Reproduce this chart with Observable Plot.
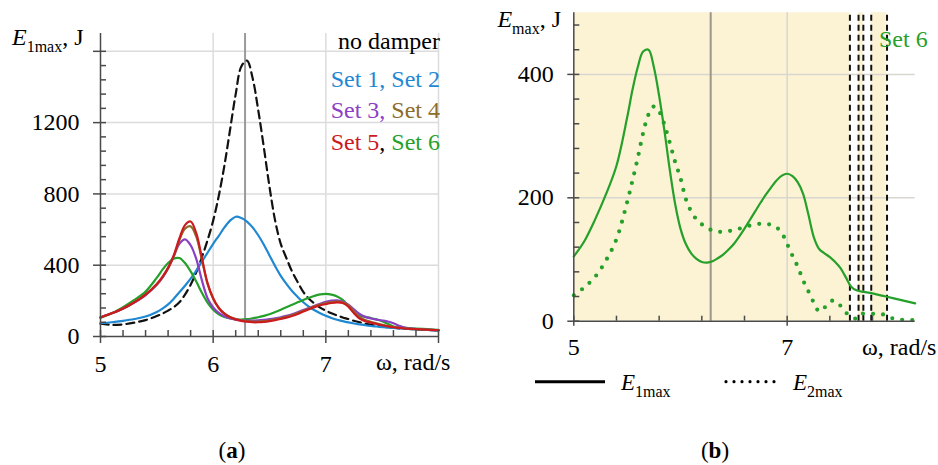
<!DOCTYPE html>
<html>
<head>
<meta charset="utf-8">
<script src="https://cdn.jsdelivr.net/npm/d3@7"></script>
<script src="https://cdn.jsdelivr.net/npm/@observablehq/plot@0.6"></script>
<style>
  html, body { margin: 0; padding: 0; background: #fff; }
  #fig { position: relative; width: 938px; height: 465px; overflow: hidden; background: #fff;
         font-family: "Liberation Serif", "DejaVu Serif", serif; color: #000; }
  #fig > svg { position: absolute; top: 0; }
  #fig svg text { font-family: "Liberation Serif", "DejaVu Serif", serif; }
  .t { position: absolute; white-space: nowrap; font-family: "Liberation Serif", "DejaVu Serif", serif; }
  .sub { font-size: 16px; position: relative; top: 7px; font-style: normal; }
</style>
</head>
<body>
<div id="fig"></div>
<script>
// ---------------- DATA ----------------
// Panel (a): frequency grid, rad/s
const omegaA = [5.0,5.1,5.2,5.3,5.4,5.5,
  5.55,5.6,5.65,5.7,5.75,5.8,5.85,5.9,5.95,6.0,
  6.05,6.1,6.15,6.2,6.25,6.3,6.35,6.4,6.45,6.5,
  6.55,6.6,6.65,6.7,6.75,6.8,6.85,6.9,6.95,7.0,
  7.05,7.1,7.15,7.2,7.25,7.3,7.35,7.4,7.45,7.5,
  7.55,7.6,7.65,7.7,7.8,7.9,8.0];
// E1max, J — no damper
const noDamper = [72,65,68,78,92,115,
  128,145,165,192,235,290,360,445,540,650,
  790,960,1160,1360,1515,1548,1450,1270,1060,840,
  650,520,440,365,305,250,212,185,162,145,
  130,118,107,98,88,80,72,66,60,56,
  52,49,46,44,40,37,34];
// Set 1, Set 2
const set12 = [75,80,88,98,112,138,
  156,180,212,248,285,325,370,420,470,520,
  565,612,650,672,665,645,612,568,515,455,
  395,340,295,255,222,192,167,147,130,116,
  104,94,86,79,73,68,63,59,56,53,
  50,48,46,44,40,37,34];
// Set 3
const set3 = [107,130,156,190,232,290,
  330,385,450,520,545,512,435,315,215,163,
  132,114,102,95,91,89,89,90,93,97,
  102,108,116,125,136,148,160,172,184,194,
  201,203,196,178,152,126,110,101,95,90,
  84,74,60,50,42,38,35];
// Set 4
const set4 = [107,130,157,192,235,293,
  333,382,450,540,605,618,560,430,295,212,
  160,128,109,98,90,86,84,84,86,90,
  96,103,111,120,131,144,157,169,179,187,
  193,196,192,174,140,108,92,82,74,66,
  59,54,49,46,41,38,35];
// Set 5
const set5 = [107,130,157,192,235,295,
  335,385,455,550,625,645,580,440,300,215,
  160,128,108,96,88,83,80,80,82,86,
  92,98,106,115,126,140,153,165,175,182,
  188,191,188,168,130,100,86,78,70,63,
  57,52,48,45,41,38,35];
// Panel (b) grid (also used for Set 6 in panel a)
const omegaB = [5.0,5.1,5.2,5.3,5.4,5.5,
  5.55,5.6,5.65,5.7,5.75,5.8,5.85,5.9,5.95,6.0,
  6.05,6.1,6.15,6.2,6.25,6.3,6.35,6.4,6.45,6.5,
  6.55,6.6,6.65,6.7,6.75,6.8,6.85,6.9,6.95,7.0,
  7.05,7.1,7.15,7.2,7.25,7.3,7.35,7.4,7.45,7.5,
  7.55,7.6,7.65,7.7,7.8,7.9,8.0,8.1,8.2];
// Set 6 — E1max
const set6E1 = [105,130,165,205,252,330,
  375,412,437,440,412,365,308,245,190,150,
  125,110,101,96,95,97,102,108,116,125,
  137,150,164,178,192,205,217,228,236,239,
  235,225,206,172,136,117,110,104,96,86,
  71,56,50,48,45,41,37,33,29];
// Set 6 — E2max
const set6E2 = [42,55,72,98,133,193,
  228,265,305,335,348,340,318,289,258,232,
  198,178,165,157,151,147,145,145,146,148,
  150,152,155,157,158,158,156,152,143,125,
  106,88,66,48,30,16,22,32,33,25,
  14,8,4,12,12,11,4,2,2];
// reference frequency (vertical grey line), rad/s
const refOmega = [6.283];
// stability boundaries in panel (b), rad/s
const bounds = [7.588, 7.669, 7.714, 7.788, 7.936];

// ticks
const majorXA = [5, 6, 7, 8];
const innerXA = [5,5.2,5.4,5.6,5.8,6,6.2,6.4,6.6,6.8,7,7.2,7.4,7.6,7.8,8];
const gridXA = [6, 7, 8];
const majorYA = [0, 400, 800, 1200, 1600];
const innerYA = [0,80,160,240,320,400,480,560,640,720,800,880,960,1040,1120,1200,1280,1360,1440,1520,1600];
const gridYA = [400, 800, 1200, 1600];

const majorXB = [5, 7];
const innerXB = [5,5.4,5.8,6.2,6.6,7,7.4,7.8];
const gridXB = [7];
const majorYB = [0, 200, 400];
const innerYB = [0,40,80,120,160,200,240,280,320,360,400,440,480];
const gridYB = [200, 400];

// colours
const C = {blue: "#1f88d2", purple: "#8b3fc4", brown: "#8c6d2c", red: "#cc1a1f", green: "#25a02a"};

// ---------------- DRAW ----------------
const fig = document.getElementById("fig");
const FONT = "Liberation Serif, DejaVu Serif, serif";
const AXIS = "#4a4a4a";
const GRID = "#dcdcdc";
const series = (xs, ys) => xs.map((x, i) => ({w: x, v: ys[i]}));

// Panel (a)
const A = {w: 470, h: 380, l: 100, r: 32, t: 33, b: 44};
const aH = A.h - A.t - A.b, aW = A.w - A.l - A.r;
const lineOpt = (stroke) => ({x: "w", y: "v", stroke, strokeWidth: 2.2, curve: "catmull-rom"});
const plotA = Plot.plot({
  width: A.w, height: A.h, marginLeft: A.l, marginRight: A.r, marginTop: A.t, marginBottom: A.b,
  x: {domain: [5, 8], label: null},
  y: {domain: [0, 1700], label: null},
  style: {fontFamily: FONT, fontSize: "24px", color: "#000", background: "transparent", overflow: "visible"},
  marks: [
    Plot.ruleY(gridYA, {y: d => d, x1: 5, x2: 8, stroke: GRID, strokeWidth: 1.5}),
    Plot.ruleX(gridXA, {x: d => d, y1: 0, y2: 1700, stroke: GRID, strokeWidth: 1.5}),
    Plot.ruleX(refOmega, {x: d => d, y1: 0, y2: 1700, stroke: "#9a9a9a", strokeWidth: 2}),
    Plot.line(series(omegaA, noDamper), {x: "w", y: "v", stroke: "#111", strokeWidth: 2.2, strokeDasharray: "8,5", curve: "catmull-rom"}),
    Plot.line(series(omegaA, set12), lineOpt(C.blue)),
    Plot.line(series(omegaB, set6E1).filter(d => d.w <= 8), lineOpt(C.green)),
    Plot.line(series(omegaA, set3), lineOpt(C.purple)),
    Plot.line(series(omegaA, set4), lineOpt(C.brown)),
    Plot.line(series(omegaA, set5), lineOpt(C.red)),
    Plot.ruleY([0], {y: d => d, x1: 5, x2: 8, stroke: AXIS, strokeWidth: 1.5}),
    Plot.ruleX([5], {x: d => d, y1: 0, y2: 1700, stroke: AXIS, strokeWidth: 1.5}),
    Plot.tickX(innerXA, {x: d => d, stroke: AXIS, strokeWidth: 1.5, insetTop: aH - 6}),
    Plot.tickY(innerYA, {y: d => d, stroke: AXIS, strokeWidth: 1.5, insetRight: aW - 6}),
    Plot.axisX(majorXA, {tickSize: 7, tickPadding: 11, tickFormat: d => d === 8 ? "" : String(d),
      stroke: AXIS, strokeWidth: 1.5, fill: "#000", fontSize: 24, fontFamily: FONT, label: null}),
    Plot.axisY(majorYA, {tickSize: 7, tickPadding: 14, tickFormat: d => d === 1600 ? "" : String(d),
      stroke: AXIS, strokeWidth: 1.5, fill: "#000", fontSize: 24, fontFamily: FONT, label: null})
  ]
});
plotA.style.left = "0px";
fig.appendChild(plotA);

// Panel (b)
const B = {left: 470, w: 468, h: 380, l: 103.3, r: 23.3, t: 12.2, b: 59.3};
const bH = B.h - B.t - B.b, bW = B.w - B.l - B.r;
const bands = [[5, bounds[0]], [bounds[1], bounds[2]], [bounds[3], bounds[4]]];
const plotB = Plot.plot({
  width: B.w, height: B.h, marginLeft: B.l, marginRight: B.r, marginTop: B.t, marginBottom: B.b,
  x: {domain: [5, 8.2], label: null},
  y: {domain: [0, 500], label: null},
  style: {fontFamily: FONT, fontSize: "24px", color: "#000", background: "transparent", overflow: "visible"},
  marks: [
    Plot.rect(bands, {x1: d => d[0], x2: d => d[1], y1: 0, y2: 500, fill: "#fcf2d4"}),
    Plot.ruleY(gridYB, {y: d => d, x1: 5, x2: 8.2, stroke: "#d8d6cf", strokeWidth: 1.5}),
    Plot.ruleX(gridXB, {x: d => d, y1: 0, y2: 500, stroke: "#d8d6cf", strokeWidth: 1.5}),
    Plot.ruleX(refOmega, {x: d => d, y1: 0, y2: 500, stroke: "#9c968a", strokeWidth: 2}),
    Plot.ruleX(bounds, {x: d => d, y1: 0, y2: 500, stroke: "#111", strokeWidth: 2, strokeDasharray: "6,4"}),
    Plot.line(series(omegaB, set6E1), {x: "w", y: "v", stroke: C.green, strokeWidth: 2.2, curve: "catmull-rom"}),
    Plot.line(series(omegaB, set6E2), {x: "w", y: "v", stroke: C.green, strokeWidth: 4.2, strokeDasharray: "0,10", strokeLinecap: "round", curve: "catmull-rom"}),
    Plot.ruleY([0], {y: d => d, x1: 5, x2: 8.2, stroke: AXIS, strokeWidth: 1.5}),
    Plot.ruleX([5], {x: d => d, y1: 0, y2: 500, stroke: AXIS, strokeWidth: 1.5}),
    Plot.tickX(innerXB, {x: d => d, stroke: AXIS, strokeWidth: 1.5, insetTop: bH - 5}),
    Plot.tickY(innerYB, {y: d => d, stroke: AXIS, strokeWidth: 1.5, insetRight: bW - 6}),
    Plot.axisX(majorXB, {tickSize: 5, tickPadding: 12, tickFormat: d => String(d),
      stroke: AXIS, strokeWidth: 1.5, fill: "#000", fontSize: 24, fontFamily: FONT, label: null}),
    Plot.axisY(majorYB, {tickSize: 6, tickPadding: 14, tickFormat: d => String(d),
      stroke: AXIS, strokeWidth: 1.5, fill: "#000", fontSize: 24, fontFamily: FONT, label: null})
  ]
});
plotB.style.left = B.left + "px";
fig.appendChild(plotB);

// ---------------- TEXT ----------------
function addText(html, o) {
  const size = o.size || 24;
  const d = document.createElement("div");
  d.className = "t";
  d.innerHTML = html;
  d.style.fontSize = size + "px";
  d.style.lineHeight = size + "px";
  d.style.top = (o.baseline - 0.8375 * size) + "px";
  if (o.color) d.style.color = o.color;
  if (o.left != null) d.style.left = o.left + "px";
  if (o.right != null) { d.style.right = (938 - o.right) + "px"; d.style.textAlign = "right"; }
  if (o.center != null) { d.style.left = (o.center - 100) + "px"; d.style.width = "200px"; d.style.textAlign = "center"; }
  fig.appendChild(d);
  return d;
}
// axis titles
addText('<i>E</i><span class="sub">1max</span>, J', {left: 12, baseline: 45});
addText('<i>E</i><span class="sub">max</span>, J', {right: 561, baseline: 27});
addText('ω, rad/s', {left: 376, baseline: 370.5});
addText('ω, rad/s', {left: 862, baseline: 355});
// panel (a) key
addText('no damper', {right: 440, baseline: 49.5});
addText(`<span style="color:${C.blue}">Set 1, Set 2</span>`, {right: 440, baseline: 86.7});
addText(`<span style="color:${C.purple}">Set 3,</span> <span style="color:${C.brown}">Set 4</span>`, {right: 440, baseline: 118.3});
addText(`<span style="color:${C.red}">Set 5</span>, <span style="color:${C.green}">Set 6</span>`, {right: 440, baseline: 150});
// panel (b) key
addText('Set 6', {left: 879, baseline: 46.7, color: C.green});
// legend (b)
const lg = document.createElementNS("http://www.w3.org/2000/svg", "svg");
lg.setAttribute("width", "938"); lg.setAttribute("height", "465");
lg.style.position = "absolute"; lg.style.left = "0px"; lg.style.top = "0px"; lg.style.pointerEvents = "none";
lg.innerHTML = '<line x1="535" x2="605" y1="381.7" y2="381.7" stroke="#000" stroke-width="3"/>' +
  '<line x1="726" x2="782" y1="381.7" y2="381.7" stroke="#000" stroke-width="3.2" stroke-dasharray="0,8" stroke-linecap="round"/>';
fig.appendChild(lg);
addText('<i>E</i><span class="sub">1max</span>', {left: 621, baseline: 390, size: 23});
addText('<i>E</i><span class="sub">2max</span>', {left: 793, baseline: 390, size: 23});
// captions
addText('(<b>a</b>)', {center: 232, baseline: 458, size: 23});
addText('(<b>b</b>)', {center: 715, baseline: 458, size: 23});
</script>
</body>
</html>
